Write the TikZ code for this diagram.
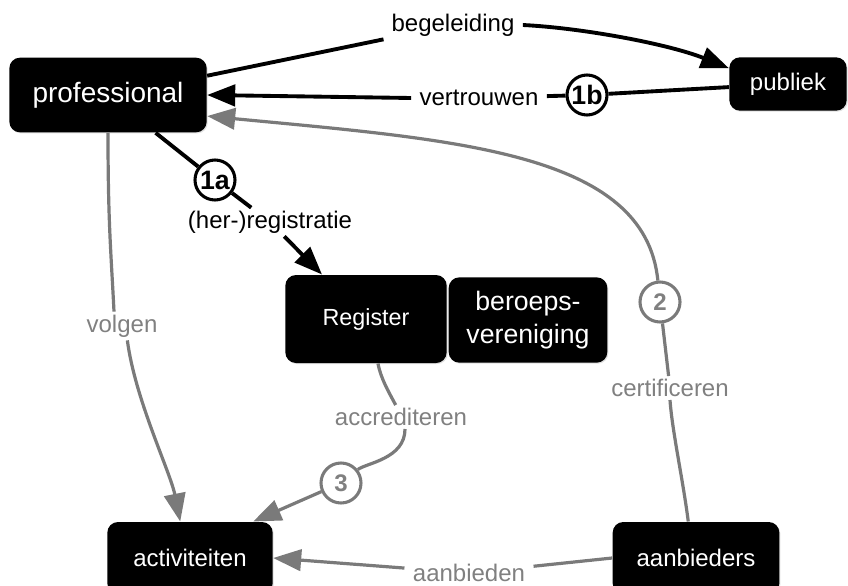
\documentclass[tikz,border=0pt]{standalone}
\usepackage{fontspec}
\setmainfont{Liberation Sans}
\usetikzlibrary{arrows.meta,shadows}

\definecolor{lijngrijs}{RGB}{122,122,122}
\definecolor{tekstgrijs}{RGB}{128,128,128}

\tikzset{every picture/.style={line width=0.75pt}}
\tikzset{
  blok/.style={fill=black, rounded corners=8pt, text=white, align=center, inner sep=0pt,
    drop shadow={opacity=0.25, shadow xshift=0.8pt, shadow yshift=-0.8pt}},
  tekst/.style={font=\fontsize{18}{21}\selectfont, inner xsep=6pt, inner ysep=2pt},
  grijstekst/.style={tekst, text=tekstgrijs},
  rondje/.style={circle, draw=black, fill=white, line width=2.3pt, minimum size=30pt, inner sep=0pt,
    font=\fontsize{20}{20}\selectfont\bfseries},
  grijsrondje/.style={rondje, draw=lijngrijs, text=tekstgrijs, font=\fontsize{18}{18}\selectfont\bfseries},
  zwart/.style={draw=black, line width=2.9pt},
  grijs/.style={draw=lijngrijs, line width=2.4pt},
  pijl/.style={-{Triangle[length=21pt,width=16pt]}},
}

\begin{document}
\begin{tikzpicture}[x=0.75pt,y=0.75pt,yscale=-1,xscale=1]
	\useasboundingbox (0,0) rectangle (848,585);
	\clip (0,0) rectangle (848,585);

	%Shape: Rounded Rect
	\node[blok, minimum width=148pt, minimum height=56pt, font=\fontsize{21}{24}\selectfont] (professional) at (108,95) {professional};
	\node[blok, minimum width=88pt, minimum height=40pt, font=\fontsize{18}{21}\selectfont] (publiek) at (788,84) {publiek};
	\node[blok, minimum width=121pt, minimum height=66pt, font=\fontsize{17.5}{21}\selectfont] (register) at (366,319) {Register};
	\node[blok, minimum width=119pt, minimum height=64pt, font=\fontsize{20}{25}\selectfont] (vereniging) at (528,320) {beroeps-\\vereniging};
	\node[blok, minimum width=124pt, minimum height=54pt, font=\fontsize{18}{21}\selectfont] (activiteiten) at (190,558) {activiteiten};
	\node[blok, minimum width=125pt, minimum height=54pt, font=\fontsize{18}{21}\selectfont] (aanbieders) at (696,558) {aanbieders};

	% Text Node
	\node[tekst] (lbegel) at (453,25) {begeleiding};
	\node[tekst] (lvertr) at (479,98) {vertrouwen};
	\node[tekst] (lherreg) at (270,222) {(her-)registratie};
	\node[grijstekst] (lvolgen) at (122,326) {volgen};
	\node[grijstekst] (lcert) at (670,388) {certificeren};
	\node[grijstekst] (laccr) at (401,417) {accrediteren};
	\node[grijstekst] (laanb) at (469,573) {aanbieden};

	%Shape: Circle
	\node[rondje] (c1a) at (215,180) {1a};
	\node[rondje] (c1b) at (587,95) {1b};
	\node[grijsrondje] (c2) at (660,302) {2};
	\node[grijsrondje] (c3) at (341,483) {3};

	%Straight Lines
	\draw[zwart] (professional.11) -- (lbegel);
	%Curve Lines
	\draw[zwart, pijl] (lbegel.east) .. controls +(60,3) and +(-60,-24) .. (publiek.165);
	%Straight Lines
	\draw[zwart] (publiek.183) -- (c1b);
	\draw[zwart] (c1b) -- (lvertr);
	\draw[zwart, pijl] (lvertr.west) -- (professional.east);
	%Straight Lines
	\draw[zwart] (professional) -- (c1a);
	\draw[zwart] (c1a) -- (lherreg);
	\draw[zwart, pijl] (lherreg) -- (register);

	%Curve Lines
	\draw[grijs] (professional.south) .. controls +(0,90) and +(-3,-60) .. ([xshift=-6pt]lvolgen.north);
	\draw[grijs, pijl] ([xshift=4pt]lvolgen.south) .. controls +(8,60) and +(-10,-50) .. (activiteiten.105);
	%Curve Lines
	\draw[grijs] (aanbieders.102) .. controls +(-5,-40) and +(2,30) .. (lcert.south);
	\draw[grijs] (lcert) -- (c2);
	\draw[grijs, pijl] (c2) .. controls +(-15,-150) and +(250,24) .. (professional.-12);
	%Curve Lines
	\draw[grijs] (register.-75) .. controls +(3,15) and +(-8,-15) .. ([xshift=-4pt]laccr.north);
	\draw[grijs] ([xshift=3pt]laccr.south) .. controls +(0,30) and +(25,-20) .. (c3);
	\draw[grijs, pijl] (c3) -- (activiteiten.30);
	%Straight Lines
	\draw[grijs] (aanbieders.west) -- (laanb);
	\draw[grijs, pijl] (laanb) -- (activiteiten.east);

\end{tikzpicture}
\end{document}
